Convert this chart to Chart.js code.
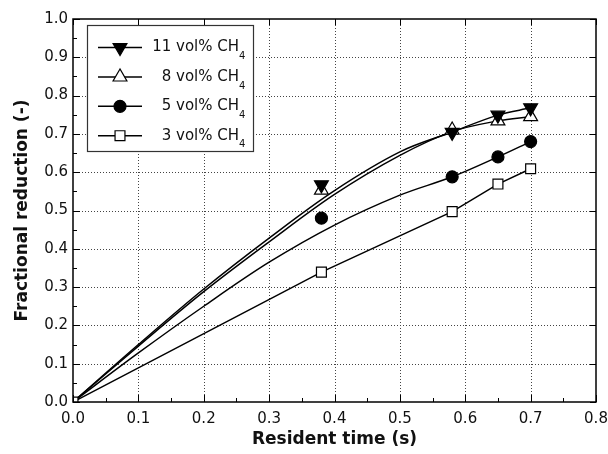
<!DOCTYPE html>
<html>
<head>
<meta charset="utf-8">
<script src="https://cdn.jsdelivr.net/npm/chart.js@4/dist/chart.umd.min.js"></script>
<style>
  html, body { margin: 0; padding: 0; background: #fff; }
  #wrap { width: 608px; height: 454px; position: relative; }
</style>
</head>
<body>
<div id="wrap"><canvas id="c" width="608" height="454"></canvas></div>
<script>
// ---- data ----
const seriesNames = ['11 vol% CH', '8 vol% CH', '5 vol% CH', '3 vol% CH'];
const seriesSub = '4';

// measured points
const xMarks = [0.38, 0.58, 0.65, 0.70];
const mark11 = [0.567, 0.704, 0.749, 0.768];
const mark8  = [0.553, 0.710, 0.734, 0.745];
const mark5  = [0.480, 0.588, 0.640, 0.680];

// fitted curves
const xCurve  = [0, 0.1, 0.2, 0.3, 0.4, 0.5, 0.58, 0.65, 0.70];
const curve11 = [0, 0.150, 0.295, 0.428, 0.552, 0.653, 0.705, 0.749, 0.768];
const curve8  = [0, 0.146, 0.288, 0.418, 0.542, 0.644, 0.706, 0.734, 0.745];
const curve5  = [0, 0.128, 0.250, 0.365, 0.462, 0.540, 0.588, 0.640, 0.680];

// 3 vol% series (straight segments, marker at origin too)
const x3 = [0, 0.38, 0.58, 0.65, 0.70];
const y3 = [0, 0.339, 0.497, 0.569, 0.609];

const xTickLabels = ['0.0','0.1','0.2','0.3','0.4','0.5','0.6','0.7','0.8'];
const yTickLabels = ['0.0','0.1','0.2','0.3','0.4','0.5','0.6','0.7','0.8','0.9','1.0'];

const xTitle = 'Resident time (s)';
const yTitle = 'Fractional reduction (-)';

// ---- helpers ----
const pts = (xs, ys) => xs.map((x, i) => ({x: x, y: ys[i]}));
const FONT = "'DejaVu Sans', Verdana, sans-serif";

function drawMarker(ctx, style, x, y) {
  ctx.save();
  ctx.lineWidth = 1.2;
  ctx.strokeStyle = '#000';
  ctx.beginPath();
  const s60 = Math.sin(Math.PI / 3);
  if (style === 'down') {
    const r = 8;
    ctx.moveTo(x, y + r); ctx.lineTo(x - r * s60, y - r / 2); ctx.lineTo(x + r * s60, y - r / 2);
    ctx.closePath(); ctx.fillStyle = '#000';
  } else if (style === 'up') {
    const r = 8;
    ctx.moveTo(x, y - r); ctx.lineTo(x - r * s60, y + r / 2); ctx.lineTo(x + r * s60, y + r / 2);
    ctx.closePath(); ctx.fillStyle = '#fff';
  } else if (style === 'circle') {
    ctx.arc(x, y, 6, 0, Math.PI * 2); ctx.fillStyle = '#000';
  } else {
    const h = 7 * Math.SQRT1_2;
    ctx.rect(x - h, y - h, 2 * h, 2 * h); ctx.fillStyle = '#fff';
  }
  ctx.fill(); ctx.stroke();
  ctx.restore();
}

const frameAndGrid = {
  id: 'frameAndGrid',
  beforeDatasetsDraw(chart) {
    const ctx = chart.ctx, a = chart.chartArea;
    const xs = chart.scales.x, ys = chart.scales.y;
    ctx.save();
    ctx.strokeStyle = '#444';
    ctx.lineWidth = 1;
    ctx.setLineDash([1, 2]);
    xTickLabels.forEach(t => {
      const v = parseFloat(t);
      const px = Math.round(xs.getPixelForValue(v)) + 0.5;
      if (px <= a.left + 2 || px >= a.right - 2) return;
      ctx.beginPath(); ctx.moveTo(px, a.top); ctx.lineTo(px, a.bottom); ctx.stroke();
    });
    yTickLabels.forEach(t => {
      const v = parseFloat(t);
      const py = Math.round(ys.getPixelForValue(v)) + 0.5;
      if (py <= a.top + 2 || py >= a.bottom - 2) return;
      ctx.beginPath(); ctx.moveTo(a.left, py); ctx.lineTo(a.right, py); ctx.stroke();
    });
    ctx.restore();
  },
  afterDatasetsDraw(chart) {
    const ctx = chart.ctx, a = chart.chartArea;
    const xs = chart.scales.x, ys = chart.scales.y;
    ctx.save();
    ctx.strokeStyle = '#000';
    ctx.lineWidth = 1;
    for (let i = 0; i < xTickLabels.length; i++) {
      const v = parseFloat(xTickLabels[i]);
      const px = Math.round(xs.getPixelForValue(v)) + 0.5;
      ctx.beginPath(); ctx.moveTo(px, a.bottom); ctx.lineTo(px, a.bottom - 7); ctx.stroke();
      ctx.beginPath(); ctx.moveTo(px, a.top); ctx.lineTo(px, a.top + 6); ctx.stroke();
      if (i < xTickLabels.length - 1) {
        const m = (v + parseFloat(xTickLabels[i + 1])) / 2;
        const pm = Math.round(xs.getPixelForValue(m)) + 0.5;
        ctx.beginPath(); ctx.moveTo(pm, a.bottom); ctx.lineTo(pm, a.bottom - 4); ctx.stroke();
      }
    }
    for (let i = 0; i < yTickLabels.length; i++) {
      const v = parseFloat(yTickLabels[i]);
      const py = Math.round(ys.getPixelForValue(v)) + 0.5;
      ctx.beginPath(); ctx.moveTo(a.left, py); ctx.lineTo(a.left + 7, py); ctx.stroke();
      ctx.beginPath(); ctx.moveTo(a.right, py); ctx.lineTo(a.right - 6, py); ctx.stroke();
      if (i < yTickLabels.length - 1) {
        const m = (v + parseFloat(yTickLabels[i + 1])) / 2;
        const pm = Math.round(ys.getPixelForValue(m)) + 0.5;
        ctx.beginPath(); ctx.moveTo(a.left, pm); ctx.lineTo(a.left + 4, pm); ctx.stroke();
      }
    }
    ctx.lineWidth = 1.5;
    ctx.strokeRect(a.left, a.top, a.right - a.left, a.bottom - a.top);
    ctx.restore();
  },
  afterDraw(chart) {
    const ctx = chart.ctx;
    const box = {x: 87, y: 25, w: 166, h: 126};
    ctx.save();
    ctx.fillStyle = '#fff';
    ctx.fillRect(box.x, box.y, box.w, box.h);
    ctx.strokeStyle = '#333';
    ctx.lineWidth = 1.2;
    ctx.strokeRect(box.x + 0.5, box.y + 0.5, box.w, box.h);
    const styles = ['down', 'up', 'circle', 'square'];
    const rowY = [47.5, 77, 106.3, 135.7];
    seriesNames.forEach((name, i) => {
      const y = rowY[i];
      ctx.strokeStyle = '#000';
      ctx.lineWidth = 1.5;
      ctx.beginPath(); ctx.moveTo(98, y); ctx.lineTo(142, y); ctx.stroke();
      drawMarker(ctx, styles[i], 120, y);
      ctx.fillStyle = '#111';
      ctx.font = '15px ' + FONT;
      ctx.textAlign = 'right';
      ctx.textBaseline = 'middle';
      ctx.fillText(name, 239, y);
      ctx.font = '10px ' + FONT;
      ctx.textAlign = 'left';
      ctx.fillText(seriesSub, 239, y + 9);
    });
    ctx.restore();
  }
};

const lineBase = {
  borderColor: '#000', borderWidth: 1.5, pointRadius: 0, fill: false,
  tension: 0.35, clip: 0
};
const markBase = { showLine: false, borderColor: '#000', pointBorderWidth: 1.2, clip: 0 };

new Chart(document.getElementById('c'), {
  type: 'scatter',
  data: {
    datasets: [
      Object.assign({}, markBase, { label: 'm11', data: pts(xMarks, mark11), pointStyle: 'triangle', rotation: 180,
        pointRadius: 8, backgroundColor: '#000', pointBackgroundColor: '#000' }),
      Object.assign({}, markBase, { label: 'm8', data: pts(xMarks, mark8), pointStyle: 'triangle',
        pointRadius: 8, backgroundColor: '#fff', pointBackgroundColor: '#fff' }),
      Object.assign({}, markBase, { label: 'm5', data: pts(xMarks, mark5), pointStyle: 'circle',
        pointRadius: 6, backgroundColor: '#000', pointBackgroundColor: '#000' }),
      { label: '3', data: pts(x3, y3), showLine: true, borderColor: '#000', borderWidth: 1.5, tension: 0,
        pointStyle: 'rect', pointRadius: 7, pointBorderWidth: 1.2, backgroundColor: '#fff',
        pointBackgroundColor: '#fff', pointBorderColor: '#000', clip: 0 },
      Object.assign({}, lineBase, { label: 'c11', data: pts(xCurve, curve11), showLine: true }),
      Object.assign({}, lineBase, { label: 'c8', data: pts(xCurve, curve8), showLine: true }),
      Object.assign({}, lineBase, { label: 'c5', data: pts(xCurve, curve5), showLine: true })
    ]
  },
  options: {
    responsive: false,
    animation: false,
    events: [],
    layout: { padding: { left: 0, right: 12, top: 19, bottom: 0 } },
    plugins: { legend: { display: false }, tooltip: { enabled: false } },
    scales: {
      x: {
        type: 'linear', min: 0, max: 0.8,
        grid: { display: false, drawTicks: false },
        border: { display: false },
        afterFit: s => { s.height = 52; s.paddingLeft = 0; s.paddingRight = 0; },
        afterBuildTicks: s => { s.ticks = xTickLabels.map(t => ({value: parseFloat(t)})); },
        ticks: { color: '#111', padding: 8, font: { family: FONT, size: 15 },
          maxRotation: 0, autoSkip: false,
          callback: (v, i) => xTickLabels[i] },
        title: { display: true, text: xTitle, color: '#111',
          font: { family: FONT, size: 17, weight: 'bold' }, padding: { top: 0, bottom: 4 } }
      },
      y: {
        type: 'linear', min: 0, max: 1.0,
        grid: { display: false, drawTicks: false },
        border: { display: false },
        afterFit: s => { s.width = 73; s.paddingTop = 0; s.paddingBottom = 0; },
        afterBuildTicks: s => { s.ticks = yTickLabels.map(t => ({value: parseFloat(t)})); },
        ticks: { color: '#111', padding: 5, font: { family: FONT, size: 15 }, autoSkip: false,
          callback: (v, i) => yTickLabels[i] },
        title: { display: true, text: yTitle, color: '#111',
          font: { family: FONT, size: 17, weight: 'bold' }, padding: { top: 12, bottom: 0 } }
      }
    }
  },
  plugins: [frameAndGrid]
});
</script>
</body>
</html>
